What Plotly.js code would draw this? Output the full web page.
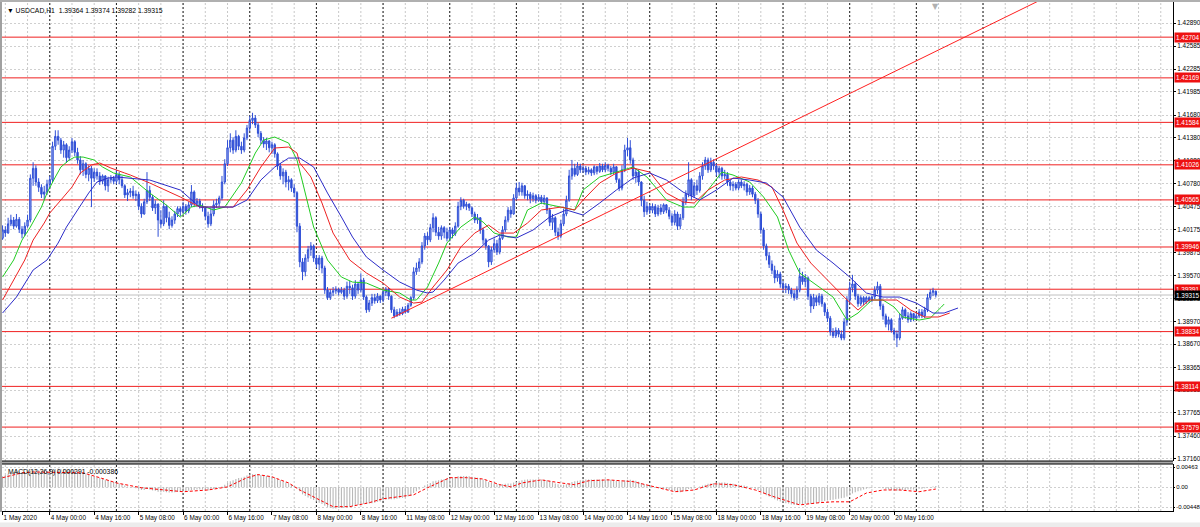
<!DOCTYPE html>
<html><head><meta charset="utf-8">
<script src="https://cdn.plot.ly/plotly-3.0.1.min.js"></script>
<style>html,body{margin:0;padding:0;background:#fff;}#chart{width:1200px;height:527px;}</style>
</head><body><div id="chart"></div>
<script>
// ---------------- DATA ----------------
const symbolName = 'USDCAD,H1';
// hourly bars, index 0 = 1 May 2020 07:00 ... index 336 = 21 May 07:00 (weekends skipped)
const opens = [1.4006,
1.4017,1.4013,1.4025,1.4030,1.4022,1.4031,1.4018,1.4012,1.4022,1.4030,
1.4085,1.4098,1.4080,1.4073,1.4064,1.4067,1.4077,1.4083,1.4127,1.4140,
1.4135,1.4122,1.4129,1.4112,1.4122,1.4133,1.4119,1.4109,1.4096,1.4104,
1.4090,1.4098,1.4085,1.4093,1.4088,1.4081,1.4088,1.4075,1.4083,1.4085,
1.4081,1.4090,1.4083,1.4075,1.4063,1.4066,1.4068,1.4062,1.4064,1.4048,
1.4038,1.4054,1.4069,1.4060,1.4046,1.4051,1.4030,1.4025,1.4048,1.4033,
1.4023,1.4030,1.4038,1.4045,1.4041,1.4048,1.4042,1.4050,1.4067,1.4052,
1.4055,1.4048,1.4046,1.4035,1.4025,1.4038,1.4050,1.4052,1.4059,1.4080,
1.4104,1.4125,1.4135,1.4122,1.4140,1.4127,1.4122,1.4138,1.4151,1.4161,
1.4164,1.4155,1.4144,1.4135,1.4130,1.4134,1.4125,1.4129,1.4117,1.4101,
1.4088,1.4093,1.4080,1.4083,1.4072,1.4066,1.4022,1.3975,1.3962,1.3980,
1.3991,1.3996,1.3980,1.3972,1.3980,1.3967,1.3938,1.3928,1.3935,1.3937,
1.3939,1.3935,1.3938,1.3930,1.3943,1.3941,1.3930,1.3946,1.3938,1.3951,
1.3929,1.3912,1.3921,1.3928,1.3924,1.3930,1.3925,1.3935,1.3939,1.3930,
1.3912,1.3904,1.3909,1.3907,1.3913,1.3909,1.3918,1.3928,1.3962,1.3967,
1.3975,1.3996,1.4009,1.4004,1.4020,1.4033,1.4014,1.4009,1.4020,1.4014,
1.4006,1.4017,1.4012,1.4022,1.4048,1.4056,1.4048,1.4051,1.4046,1.4038,
1.4030,1.4033,1.4017,1.4004,1.3996,1.3975,1.3991,1.3999,1.3988,1.4006,
1.4017,1.4030,1.4043,1.4038,1.4059,1.4072,1.4067,1.4075,1.4062,1.4064,
1.4058,1.4062,1.4056,1.4060,1.4054,1.4059,1.4043,1.4027,1.4033,1.4014,
1.4009,1.4025,1.4038,1.4056,1.4088,1.4098,1.4090,1.4101,1.4096,1.4098,
1.4093,1.4096,1.4092,1.4100,1.4094,1.4101,1.4096,1.4102,1.4098,1.4093,
1.4100,1.4083,1.4072,1.4096,1.4122,1.4125,1.4109,1.4088,1.4093,1.4080,
1.4056,1.4041,1.4048,1.4043,1.4048,1.4038,1.4046,1.4041,1.4050,1.4043,
1.4035,1.4027,1.4038,1.4022,1.4033,1.4054,1.4064,1.4083,1.4062,1.4075,
1.4069,1.4088,1.4101,1.4109,1.4096,1.4106,1.4101,1.4093,1.4098,1.4088,
1.4090,1.4080,1.4075,1.4077,1.4072,1.4080,1.4075,1.4077,1.4067,1.4072,
1.4064,1.4056,1.4038,1.4017,1.3996,1.3983,1.3972,1.3964,1.3954,1.3959,
1.3946,1.3941,1.3943,1.3938,1.3933,1.3928,1.3938,1.3956,1.3949,1.3954,
1.3930,1.3917,1.3928,1.3922,1.3930,1.3920,1.3909,1.3901,1.3883,1.3878,
1.3885,1.3880,1.3875,1.3896,1.3925,1.3941,1.3946,1.3930,1.3920,1.3928,
1.3922,1.3928,1.3925,1.3929,1.3938,1.3943,1.3917,1.3904,1.3893,1.3899,
1.3885,1.3880,1.3875,1.3901,1.3912,1.3904,1.3899,1.3907,1.3901,1.3904,
1.3909,1.3904,1.3912,1.3928,1.3935,
1.39364];
const highs = [
1.4023,1.4022,1.4033,1.4037,1.4034,1.4038,1.4034,1.4022,1.4027,1.4037,
1.4090,1.4106,1.4102,1.4085,1.4077,1.4075,1.4083,1.4088,1.4133,1.4148,
1.4148,1.4138,1.4134,1.4131,1.4127,1.4138,1.4135,1.4125,1.4114,1.4109,
1.4106,1.4102,1.4101,1.4098,1.4098,1.4093,1.4090,1.4089,1.4087,1.4089,
1.4088,1.4096,1.4093,1.4088,1.4077,1.4071,1.4072,1.4075,1.4069,1.4067,
1.4052,1.4058,1.4093,1.4075,1.4063,1.4056,1.4052,1.4043,1.4056,1.4050,
1.4041,1.4035,1.4042,1.4048,1.4048,1.4054,1.4051,1.4054,1.4076,1.4069,
1.4059,1.4058,1.4052,1.4048,1.4041,1.4046,1.4056,1.4058,1.4062,1.4088,
1.4110,1.4135,1.4144,1.4139,1.4148,1.4142,1.4133,1.4144,1.4155,1.4167,
1.4171,1.4168,1.4158,1.4147,1.4139,1.4138,1.4135,1.4133,1.4131,1.4119,
1.4105,1.4098,1.4096,1.4088,1.4085,1.4077,1.4068,1.4026,1.3980,1.3985,
1.3996,1.4001,1.3998,1.3984,1.3984,1.3983,1.3970,1.3942,1.3939,1.3942,
1.3943,1.3941,1.3942,1.3941,1.3949,1.3950,1.3945,1.3951,1.3949,1.3960,
1.3954,1.3931,1.3925,1.3933,1.3933,1.3934,1.3931,1.3938,1.3942,1.3941,
1.3931,1.3916,1.3913,1.3914,1.3916,1.3917,1.3921,1.3930,1.3968,1.3974,
1.3980,1.4001,1.4013,1.4014,1.4025,1.4039,1.4035,1.4021,1.4023,1.4022,
1.4020,1.4021,1.4020,1.4027,1.4054,1.4060,1.4058,1.4054,1.4052,1.4048,
1.4041,1.4038,1.4034,1.4020,1.4006,1.3997,1.3995,1.4006,1.4004,1.4010,
1.4022,1.4035,1.4047,1.4048,1.4064,1.4079,1.4080,1.4079,1.4076,1.4069,
1.4067,1.4066,1.4064,1.4064,1.4063,1.4063,1.4060,1.4046,1.4038,1.4035,
1.4020,1.4030,1.4045,1.4062,1.4096,1.4109,1.4104,1.4106,1.4104,1.4102,
1.4101,1.4100,1.4098,1.4102,1.4101,1.4105,1.4104,1.4106,1.4104,1.4101,
1.4104,1.4101,1.4085,1.4102,1.4129,1.4138,1.4135,1.4112,1.4098,1.4096,
1.4081,1.4062,1.4054,1.4051,1.4052,1.4051,1.4050,1.4051,1.4052,1.4051,
1.4047,1.4039,1.4043,1.4041,1.4038,1.4060,1.4069,1.4106,1.4085,1.4080,
1.4083,1.4093,1.4106,1.4113,1.4112,1.4112,1.4110,1.4104,1.4101,1.4100,
1.4096,1.4093,1.4083,1.4081,1.4080,1.4083,1.4083,1.4081,1.4079,1.4076,
1.4075,1.4067,1.4059,1.4041,1.4020,1.3999,1.3988,1.3977,1.3970,1.3964,
1.3962,1.3950,1.3947,1.3946,1.3941,1.3938,1.3943,1.3967,1.3962,1.3959,
1.3956,1.3933,1.3933,1.3931,1.3934,1.3933,1.3922,1.3913,1.3904,1.3888,
1.3889,1.3888,1.3885,1.3901,1.3930,1.3949,1.3958,1.3949,1.3933,1.3931,
1.3930,1.3930,1.3930,1.3931,1.3943,1.3949,1.3946,1.3920,1.3907,1.3903,
1.3901,1.3888,1.3885,1.3907,1.3916,1.3914,1.3909,1.3910,1.3908,1.3908,
1.3913,1.3913,1.3916,1.3933,1.3939,1.3941,1.39374];
const lows = [
1.4004,1.4008,1.4012,1.4022,1.4018,1.4020,1.4013,1.4006,1.4009,1.4020,
1.4027,1.4075,1.4075,1.4067,1.4059,1.4056,1.4063,1.4072,1.4080,1.4122,
1.4129,1.4117,1.4112,1.4105,1.4108,1.4118,1.4114,1.4104,1.4090,1.4088,
1.4085,1.4081,1.4047,1.4080,1.4083,1.4076,1.4077,1.4069,1.4067,1.4079,
1.4077,1.4077,1.4077,1.4072,1.4059,1.4055,1.4060,1.4058,1.4055,1.4043,
1.4033,1.4037,1.4051,1.4055,1.4042,1.4038,1.4008,1.4020,1.4022,1.4027,
1.4018,1.4020,1.4025,1.4034,1.4035,1.4038,1.4037,1.4039,1.4047,1.4047,
1.4047,1.4045,1.4041,1.4030,1.4020,1.4022,1.4035,1.4046,1.4048,1.4056,
1.4077,1.4101,1.4119,1.4117,1.4119,1.4122,1.4117,1.4119,1.4135,1.4147,
1.4156,1.4151,1.4139,1.4130,1.4125,1.4122,1.4119,1.4117,1.4112,1.4096,
1.4083,1.4077,1.4073,1.4069,1.4067,1.4060,1.4014,1.3968,1.3951,1.3956,
1.3975,1.3983,1.3975,1.3967,1.3964,1.3960,1.3933,1.3925,1.3925,1.3930,
1.3933,1.3931,1.3933,1.3925,1.3927,1.3933,1.3925,1.3927,1.3933,1.3935,
1.3925,1.3908,1.3909,1.3917,1.3920,1.3921,1.3921,1.3922,1.3930,1.3925,
1.3908,1.3901,1.3903,1.3904,1.3905,1.3907,1.3908,1.3916,1.3925,1.3958,
1.3962,1.3972,1.3991,1.3997,1.4001,1.4014,1.4009,1.4004,1.4004,1.4006,
1.4002,1.4002,1.4006,1.4009,1.4020,1.4043,1.4045,1.4043,1.4042,1.4034,
1.4026,1.4025,1.4012,1.3998,1.3991,1.3968,1.3971,1.3987,1.3984,1.3985,
1.4004,1.4014,1.4027,1.4033,1.4037,1.4056,1.4062,1.4062,1.4058,1.4056,
1.4052,1.4054,1.4052,1.4054,1.4051,1.4050,1.4038,1.4022,1.4017,1.4009,
1.4004,1.4006,1.4022,1.4035,1.4054,1.4083,1.4087,1.4088,1.4092,1.4092,
1.4089,1.4090,1.4088,1.4089,1.4090,1.4092,1.4093,1.4093,1.4094,1.4089,
1.4090,1.4079,1.4068,1.4069,1.4093,1.4114,1.4104,1.4083,1.4079,1.4075,
1.4048,1.4034,1.4037,1.4038,1.4039,1.4034,1.4035,1.4037,1.4038,1.4039,
1.4031,1.4022,1.4023,1.4017,1.4018,1.4030,1.4050,1.4060,1.4056,1.4059,
1.4063,1.4066,1.4083,1.4096,1.4092,1.4093,1.4096,1.4088,1.4085,1.4083,
1.4084,1.4075,1.4069,1.4068,1.4069,1.4069,1.4072,1.4069,1.4062,1.4063,
1.4060,1.4051,1.4033,1.4012,1.3991,1.3977,1.3967,1.3959,1.3947,1.3949,
1.3941,1.3935,1.3934,1.3933,1.3928,1.3924,1.3925,1.3935,1.3945,1.3942,
1.3925,1.3908,1.3913,1.3917,1.3918,1.3916,1.3904,1.3896,1.3878,1.3875,
1.3875,1.3876,1.3872,1.3872,1.3891,1.3921,1.3935,1.3925,1.3916,1.3917,
1.3918,1.3920,1.3921,1.3922,1.3926,1.3933,1.3912,1.3899,1.3889,1.3885,
1.3882,1.3872,1.3863,1.3872,1.3899,1.3900,1.3895,1.3896,1.3897,1.3899,
1.3901,1.3901,1.3901,1.3909,1.3925,1.3930,1.39282];
const closes = [
1.4017,1.4013,1.4025,1.4030,1.4022,1.4031,1.4018,1.4012,1.4022,1.4030,
1.4085,1.4098,1.4080,1.4073,1.4064,1.4067,1.4077,1.4083,1.4127,1.4140,
1.4135,1.4122,1.4129,1.4112,1.4122,1.4133,1.4119,1.4109,1.4096,1.4104,
1.4090,1.4098,1.4085,1.4093,1.4088,1.4081,1.4088,1.4075,1.4083,1.4085,
1.4081,1.4090,1.4083,1.4075,1.4063,1.4066,1.4068,1.4062,1.4064,1.4048,
1.4038,1.4054,1.4069,1.4060,1.4046,1.4051,1.4030,1.4025,1.4048,1.4033,
1.4023,1.4030,1.4038,1.4045,1.4041,1.4048,1.4042,1.4050,1.4067,1.4052,
1.4055,1.4048,1.4046,1.4035,1.4025,1.4038,1.4050,1.4052,1.4059,1.4080,
1.4104,1.4125,1.4135,1.4122,1.4140,1.4127,1.4122,1.4138,1.4151,1.4161,
1.4164,1.4155,1.4144,1.4135,1.4130,1.4134,1.4125,1.4129,1.4117,1.4101,
1.4088,1.4093,1.4080,1.4083,1.4072,1.4066,1.4022,1.3975,1.3962,1.3980,
1.3991,1.3996,1.3980,1.3972,1.3980,1.3967,1.3938,1.3928,1.3935,1.3937,
1.3939,1.3935,1.3938,1.3930,1.3943,1.3941,1.3930,1.3946,1.3938,1.3951,
1.3929,1.3912,1.3921,1.3928,1.3924,1.3930,1.3925,1.3935,1.3939,1.3930,
1.3912,1.3904,1.3909,1.3907,1.3913,1.3909,1.3918,1.3928,1.3962,1.3967,
1.3975,1.3996,1.4009,1.4004,1.4020,1.4033,1.4014,1.4009,1.4020,1.4014,
1.4006,1.4017,1.4012,1.4022,1.4048,1.4056,1.4048,1.4051,1.4046,1.4038,
1.4030,1.4033,1.4017,1.4004,1.3996,1.3975,1.3991,1.3999,1.3988,1.4006,
1.4017,1.4030,1.4043,1.4038,1.4059,1.4072,1.4067,1.4075,1.4062,1.4064,
1.4058,1.4062,1.4056,1.4060,1.4054,1.4059,1.4043,1.4027,1.4033,1.4014,
1.4009,1.4025,1.4038,1.4056,1.4088,1.4098,1.4090,1.4101,1.4096,1.4098,
1.4093,1.4096,1.4092,1.4100,1.4094,1.4101,1.4096,1.4102,1.4098,1.4093,
1.4100,1.4083,1.4072,1.4096,1.4122,1.4125,1.4109,1.4088,1.4093,1.4080,
1.4056,1.4041,1.4048,1.4043,1.4048,1.4038,1.4046,1.4041,1.4050,1.4043,
1.4035,1.4027,1.4038,1.4022,1.4033,1.4054,1.4064,1.4083,1.4062,1.4075,
1.4069,1.4088,1.4101,1.4109,1.4096,1.4106,1.4101,1.4093,1.4098,1.4088,
1.4090,1.4080,1.4075,1.4077,1.4072,1.4080,1.4075,1.4077,1.4067,1.4072,
1.4064,1.4056,1.4038,1.4017,1.3996,1.3983,1.3972,1.3964,1.3954,1.3959,
1.3946,1.3941,1.3943,1.3938,1.3933,1.3928,1.3938,1.3956,1.3949,1.3954,
1.3930,1.3917,1.3928,1.3922,1.3930,1.3920,1.3909,1.3901,1.3883,1.3878,
1.3885,1.3880,1.3875,1.3896,1.3925,1.3941,1.3946,1.3930,1.3920,1.3928,
1.3922,1.3928,1.3925,1.3929,1.3938,1.3943,1.3917,1.3904,1.3893,1.3899,
1.3885,1.3880,1.3875,1.3901,1.3912,1.3904,1.3899,1.3907,1.3901,1.3904,
1.3909,1.3904,1.3912,1.3928,1.3935,1.3937,1.39315];

// Alligator lines (x = bar index, shifted lines run past the last bar)
const jawX = [0,5,11,16,20,23,27,31,34,38,41,46,53,64,71,83,88,93,98,103,107,112,117,122,126,131,137,143,149,153,155,159,164,170,175,179,185,191,197,203,209,215,221,227,233,239,245,251,257,263,269,275,281,287,293,299,305,311,317,323,329,335,339,344];
const jawY = [1.39078,1.39288,1.39643,1.39775,1.39998,1.40208,1.40432,1.40655,1.40800,1.40852,1.40866,1.40852,1.40826,1.40695,1.40471,1.40471,1.40563,1.40826,1.40997,1.41115,1.41115,1.40997,1.40655,1.40340,1.40077,1.39814,1.39643,1.39485,1.39380,1.39341,1.39354,1.39512,1.39735,1.39867,1.40037,1.40103,1.40064,1.40169,1.40340,1.40432,1.40366,1.40524,1.40695,1.40852,1.40918,1.40826,1.40668,1.40563,1.40695,1.40852,1.40826,1.40787,1.40603,1.40208,1.39906,1.39735,1.39551,1.39341,1.39288,1.39288,1.39209,1.39078,1.39078,1.39144];
const teethX = [0,8,11,15,17,21,25,28,32,35,39,44,46,53,64,71,83,88,93,98,103,106,107,111,115,119,125,131,137,143,148,151,155,160,165,170,175,179,184,189,194,201,206,209,215,221,227,233,239,245,249,254,260,266,272,277,281,286,291,297,303,308,312,317,322,327,332,337,341];
const teethY = [1.39249,1.39775,1.40037,1.40261,1.40392,1.40563,1.40734,1.40918,1.41023,1.41050,1.40984,1.40918,1.40892,1.40787,1.40603,1.40471,1.40471,1.40695,1.40997,1.41247,1.41260,1.41181,1.41050,1.40866,1.40524,1.40129,1.39775,1.39604,1.39472,1.39288,1.39209,1.39222,1.39420,1.39643,1.39946,1.40129,1.40234,1.40129,1.40129,1.40261,1.40432,1.40471,1.40432,1.40563,1.40787,1.40918,1.40984,1.40931,1.40655,1.40537,1.40524,1.40695,1.40826,1.40866,1.40826,1.40734,1.40432,1.39998,1.39735,1.39512,1.39288,1.39117,1.39249,1.39249,1.39249,1.39117,1.39026,1.39026,1.39078];
const lipsX = [0,4,7,10,14,16,19,21,24,26,29,33,36,40,46,53,59,64,68,71,76,80,86,91,94,98,103,106,108,112,117,122,126,131,137,143,147,149,153,157,160,165,170,173,177,182,185,189,194,201,206,209,215,221,227,232,239,245,249,254,259,263,269,274,279,283,287,294,299,304,308,313,317,321,324,330,334,338,339];
const lipsY = [1.39551,1.39775,1.40037,1.40208,1.40471,1.40655,1.40866,1.40997,1.41089,1.41128,1.41128,1.41089,1.40997,1.40918,1.40866,1.40655,1.40497,1.40340,1.40471,1.40497,1.40432,1.40471,1.40787,1.41181,1.41352,1.41391,1.41312,1.41089,1.40800,1.40208,1.39775,1.39551,1.39485,1.39472,1.39380,1.39341,1.39249,1.39249,1.39420,1.39735,1.39998,1.40208,1.40340,1.40274,1.40129,1.40077,1.40077,1.40432,1.40524,1.40471,1.40432,1.40695,1.40866,1.40931,1.40997,1.40866,1.40563,1.40471,1.40471,1.40695,1.40931,1.40892,1.40800,1.40603,1.40340,1.39906,1.39604,1.39420,1.39288,1.38986,1.39078,1.39249,1.39249,1.39157,1.39026,1.38986,1.39012,1.39157,1.39196];

// MACD(12,26,9): main line drawn as histogram, signal as dotted line
const macdHist = [
0.0025,0.0028,0.0031,0.0033,0.0035,0.0036,0.0036,0.0035,0.0035,0.0036,
0.0038,0.0040,0.0040,0.0039,0.0038,0.0037,0.0037,0.0037,0.0040,0.0042,
0.0043,0.0042,0.0042,0.0040,0.0040,0.0040,0.0039,0.0037,0.0034,0.0033,
0.0030,0.0029,0.0026,0.0025,0.0023,0.0021,0.0020,0.0017,0.0016,0.0014,
0.0012,0.0011,0.0009,0.0007,0.0004,0.0002,0.0001,-0.0001,-0.0002,-0.0004,
-0.0006,-0.0006,-0.0004,-0.0005,-0.0007,-0.0008,-0.0010,-0.0011,-0.0010,-0.0011,
-0.0012,-0.0012,-0.0011,-0.0010,-0.0010,-0.0009,-0.0009,-0.0008,-0.0006,-0.0006,
-0.0005,-0.0005,-0.0005,-0.0006,-0.0007,-0.0006,-0.0004,-0.0003,-0.0001,0.0002,
0.0006,0.0010,0.0014,0.0016,0.0019,0.0021,0.0022,0.0024,0.0027,0.0029,
0.0030,0.0030,0.0029,0.0028,0.0027,0.0026,0.0025,0.0024,0.0022,0.0019,
0.0016,0.0014,0.0011,0.0009,0.0006,0.0003,-0.0002,-0.0009,-0.0016,-0.0020,
-0.0023,-0.0026,-0.0029,-0.0032,-0.0035,-0.0038,-0.0042,-0.0045,-0.0047,-0.0048,
-0.0048,-0.0047,-0.0047,-0.0046,-0.0045,-0.0044,-0.0043,-0.0041,-0.0040,-0.0038,
-0.0038,-0.0038,-0.0037,-0.0036,-0.0035,-0.0033,-0.0032,-0.0030,-0.0028,-0.0027,
-0.0027,-0.0027,-0.0026,-0.0025,-0.0024,-0.0023,-0.0021,-0.0019,-0.0013,-0.0009,
-0.0005,0.0000,0.0004,0.0007,0.0010,0.0014,0.0015,0.0016,0.0018,0.0019,
0.0020,0.0021,0.0022,0.0023,0.0025,0.0026,0.0026,0.0026,0.0025,0.0024,
0.0023,0.0022,0.0020,0.0018,0.0016,0.0012,0.0010,0.0009,0.0007,0.0007,
0.0007,0.0008,0.0009,0.0009,0.0011,0.0013,0.0014,0.0016,0.0017,0.0018,
0.0018,0.0018,0.0018,0.0018,0.0018,0.0017,0.0016,0.0014,0.0012,0.0009,
0.0007,0.0006,0.0006,0.0007,0.0009,0.0012,0.0014,0.0015,0.0016,0.0017,
0.0018,0.0018,0.0018,0.0018,0.0018,0.0018,0.0018,0.0018,0.0018,0.0017,
0.0016,0.0015,0.0014,0.0014,0.0016,0.0017,0.0017,0.0016,0.0015,0.0013,
0.0010,0.0007,0.0005,0.0003,0.0002,0.0000,-0.0001,-0.0002,-0.0003,-0.0004,
-0.0006,-0.0008,-0.0009,-0.0011,-0.0011,-0.0009,-0.0007,-0.0004,-0.0003,-0.0002,
0.0000,0.0002,0.0004,0.0006,0.0008,0.0009,0.0010,0.0011,0.0011,0.0011,
0.0011,0.0010,0.0009,0.0008,0.0007,0.0006,0.0005,0.0004,0.0003,0.0001,
-0.0001,-0.0003,-0.0006,-0.0010,-0.0014,-0.0018,-0.0021,-0.0024,-0.0027,-0.0030,
-0.0032,-0.0034,-0.0036,-0.0037,-0.0039,-0.0040,-0.0040,-0.0039,-0.0039,-0.0038,
-0.0038,-0.0038,-0.0037,-0.0036,-0.0035,-0.0033,-0.0031,-0.0030,-0.0029,-0.0028,
-0.0027,-0.0026,-0.0025,-0.0024,-0.0021,-0.0018,-0.0014,-0.0011,-0.0009,-0.0007,
-0.0005,-0.0003,-0.0002,-0.0001,0.0000,0.0000,-0.0001,-0.0002,-0.0004,-0.0005,
-0.0006,-0.0007,-0.0008,-0.0007,-0.0006,-0.0006,-0.0005,-0.0005,-0.0005,-0.0004,
-0.0003,-0.0003,-0.0002,-0.0001,0.0001,0.0002,0.000291];
const signalX = [0,7,11,29,35,41,50,57,65,74,81,88,92,97,103,107,114,119,125,132,137,143,148,153,161,167,173,179,183,187,194,201,206,211,218,227,235,242,249,256,263,271,278,287,294,299,305,311,317,323,330,336];
const signalY = [0.0022,0.0033,0.0035,0.0033,0.0022,0.0010,-0.0001,-0.0006,-0.0010,-0.0006,0.0001,0.0022,0.0029,0.0024,0.0010,-0.0006,-0.0028,-0.0044,-0.0044,-0.0035,-0.0026,-0.0022,-0.0017,-0.0001,0.0022,0.0022,0.0019,0.0006,0.0001,0.0010,0.0017,0.0010,0.0006,0.0015,0.0017,0.0013,0.0001,-0.0010,-0.0006,0.0008,0.0006,-0.0006,-0.0022,-0.0040,-0.0035,-0.0033,-0.0033,-0.0013,-0.0006,-0.0006,-0.0010,-0.000386];

// time axis labels (bar index -> text)
const timeTickIdx = [0,17,33,49,65,81,97,113,129,145,161,177,193,209,225,241,257,273,289,305,321];
const timeTickText = ['1 May 2020','4 May 00:00','4 May 16:00','5 May 08:00','6 May 00:00','6 May 16:00','7 May 08:00','8 May 00:00','8 May 16:00','11 May 08:00','12 May 00:00','12 May 16:00','13 May 08:00','14 May 00:00','14 May 16:00','15 May 08:00','18 May 00:00','18 May 16:00','19 May 08:00','20 May 00:00','20 May 16:00'];
const firstDayStart = 17;     // bar index of 4 May 00:00
const barsPerDay = 24;
const lastSeparator = 353;    // 22 May 00:00
const gridStep = 8;
// price scale labels
const priceTicks = [1.42890,1.42585,1.42285,1.41985,1.41680,1.41380,1.41080,1.40780,1.40475,1.40175,1.39875,1.39570,1.39270,1.38970,1.38670,1.38365,1.38065,1.37765,1.37460,1.37160];
const macdTicks = [0.00463, 0, -0.00448];
const macdTickText = ['0.00463','0.00','-0.00448'];
// user drawn horizontal levels and trend line
const levels = [1.42704,1.42169,1.41584,1.41026,1.40565,1.39946,1.39391,1.38834,1.38114,1.37579];
const trendX = [140, 316];
const trendY = [1.3901, 1.4216];

// ---------------- CHART ----------------
const n = closes.length;
const idx = closes.map((_, i) => i);
const xRange = [-0.2, 421.4];
const yRange = [1.37133, 1.43166];
const macdRange = [-0.00539, 0.00531];
const FONT = 'Liberation Sans, Arial, sans-serif';
const AXFONT = {family:FONT, size:6.4, color:'#000'};
const lastPrice = closes[n - 1];

const slope = (trendY[1] - trendY[0]) / (trendX[1] - trendX[0]);
const trendEndX = xRange[1];
const trendEndY = trendY[0] + slope * (trendEndX - trendX[0]);

const traces = [
  {type:'candlestick', x: idx, open: opens, high: highs, low: lows, close: closes,
   xaxis:'x', yaxis:'y', whiskerwidth:0,
   increasing:{line:{color:'#2f4fd6', width:1}, fillcolor:'#a4b4ee'},
   decreasing:{line:{color:'#2f4fd6', width:1}, fillcolor:'#2f4fd6'},
   hoverinfo:'skip'},
  {type:'scatter', mode:'lines', x: lipsX, y: lipsY, line:{color:'#22cc22', width:1}, xaxis:'x', yaxis:'y', hoverinfo:'skip'},
  {type:'scatter', mode:'lines', x: teethX, y: teethY, line:{color:'#ee2222', width:1}, xaxis:'x', yaxis:'y', hoverinfo:'skip'},
  {type:'scatter', mode:'lines', x: jawX, y: jawY, line:{color:'#2c2cc8', width:1}, xaxis:'x', yaxis:'y', hoverinfo:'skip'},
  {type:'scatter', mode:'lines', x:[trendX[0], trendEndX], y:[trendY[0], trendEndY], line:{color:'#ff2020', width:1}, xaxis:'x', yaxis:'y', hoverinfo:'skip'},
  {type:'bar', x: idx, y: macdHist, width:0.4, marker:{color:'#b8b8b8', line:{width:0}}, xaxis:'x', yaxis:'y2', hoverinfo:'skip'},
  {type:'scatter', mode:'lines', x: signalX, y: signalY, line:{color:'#ff0000', width:1, dash:'3px,2px'}, xaxis:'x', yaxis:'y2', hoverinfo:'skip'}
];

const shapes = [];
for (let i = 1; i <= xRange[1]; i += gridStep) {
  ['y domain','y2 domain'].forEach(r => shapes.push({type:'line', layer:'below', xref:'x', yref:r, x0:i, x1:i, y0:0, y1:1,
    line:{color:'#c8c8c8', width:1, dash:'2px,2px'}}));
}
for (let i = firstDayStart; i <= lastSeparator; i += barsPerDay) {
  ['y domain','y2 domain'].forEach(r => shapes.push({type:'line', layer:'below', xref:'x', yref:r, x0:i, x1:i, y0:0, y1:1,
    line:{color:'#222', width:1, dash:'2px,2px'}}));
}
shapes.push({type:'line', layer:'below', xref:'paper', yref:'y', x0:0, x1:1, y0:lastPrice, y1:lastPrice, line:{color:'#c0c0c0', width:1}});
levels.forEach(v => shapes.push({type:'line', layer:'below', xref:'paper', yref:'y', x0:0, x1:1, y0:v, y1:v, line:{color:'#f02020', width:1}}));
// pane separator and frame
shapes.push({type:'rect', xref:'paper', yref:'paper', x0:0, x1:1, y0:0.0923, y1:0.0982, fillcolor:'#a8a8a8', line:{width:0}});
shapes.push({type:'line', xref:'paper', yref:'y domain', x0:0, x1:1, y0:0, y1:0, line:{color:'#000', width:1}});
shapes.push({type:'line', xref:'paper', yref:'y2 domain', x0:0, x1:1, y0:1, y1:1, line:{color:'#000', width:1}});
shapes.push({type:'rect', xref:'paper', yref:'paper', x0:-0.0018, x1:0, y0:-0.002, y1:1.004, fillcolor:'#a0a0a0', line:{width:0}});
shapes.push({type:'rect', xref:'paper', yref:'paper', x0:-0.0018, x1:1.03, y0:1, y1:1.004, fillcolor:'#b0b0b0', line:{width:0}});
shapes.push({type:'rect', xref:'paper', yref:'paper', x0:-0.0018, x1:1.03, y0:-0.033, y1:-0.0225, fillcolor:'#ececec', line:{width:0}});

const annotations = [];
annotations.push({xref:'paper', yref:'paper', x:0, y:1, xanchor:'left', yanchor:'top', xshift:3, yshift:-3, showarrow:false,
  text:'\u25BC ' + symbolName + '  ' + [opens[n-1], highs[n-1], lows[n-1], closes[n-1]].map(v => v.toFixed(5)).join(' '),
  font:{family:FONT, size:6.8, color:'#000'}});
annotations.push({xref:'paper', yref:'y2 domain', x:0, y:1, xanchor:'left', yanchor:'top', xshift:4, yshift:-2, showarrow:false,
  text:'MACD(12,26,9) ' + macdHist[n-1].toFixed(6) + ' ' + signalY[signalY.length-1].toFixed(6),
  font:{family:FONT, size:6.8, color:'#000'}});
levels.forEach(v => annotations.push({xref:'paper', yref:'y', x:1, y:v, xanchor:'left', yanchor:'middle', xshift:1, showarrow:false,
  text:v.toFixed(5), bgcolor:'#ee1111', borderpad:1, font:{family:FONT, size:6.4, color:'#fff'}}));
annotations.push({xref:'paper', yref:'y', x:1, y:lastPrice, xanchor:'left', yanchor:'middle', xshift:1, showarrow:false,
  text:lastPrice.toFixed(5), bgcolor:'#000', borderpad:1, font:{family:FONT, size:6.4, color:'#fff'}});
annotations.push({xref:'x', yref:'paper', x:n - 1, y:1, xanchor:'center', yanchor:'top', yshift:2, showarrow:false,
  text:'\u25BC', font:{family:'DejaVu Sans', size:8, color:'#b0b0b0'}});

const layout = {
  width:1200, height:527,
  margin:{l:2, r:27, t:2, b:16, pad:0},
  paper_bgcolor:'#ffffff', plot_bgcolor:'#ffffff',
  showlegend:false, hovermode:false, dragmode:false,
  font:{family:FONT, size:6.4, color:'#000'},
  xaxis:{domain:[0,1], anchor:'y2', range:xRange, rangeslider:{visible:false},
    tickmode:'array', tickvals:timeTickIdx, ticktext:timeTickText, ticklabelposition:'outside right', tickangle:0,
    ticks:'outside', ticklen:3, tickcolor:'#000', showgrid:false, zeroline:false,
    showline:true, linecolor:'#000', linewidth:1, tickfont:AXFONT},
  yaxis:{domain:[0.0982,1], anchor:'x', side:'right', range:yRange,
    tickmode:'array', tickvals:priceTicks, ticktext:priceTicks.map(v => v.toFixed(5)),
    ticks:'outside', ticklen:2, tickcolor:'#000', showgrid:true, gridcolor:'#cfcfcf', griddash:'2px,2px', gridwidth:1,
    zeroline:false, showline:true, linecolor:'#000', linewidth:1, tickfont:AXFONT},
  yaxis2:{domain:[0,0.0923], anchor:'x', side:'right', range:macdRange,
    tickmode:'array', tickvals:macdTicks, ticktext:macdTickText,
    ticks:'outside', ticklen:1, tickcolor:'#000', showgrid:true, gridcolor:'#cfcfcf', griddash:'2px,2px', gridwidth:1,
    zeroline:false, showline:true, linecolor:'#000', linewidth:1, tickfont:{family:FONT, size:6.0, color:'#000'}},
  shapes: shapes,
  annotations: annotations
};

Plotly.newPlot('chart', traces, layout, {staticPlot:true, displayModeBar:false});
</script>
</body></html>
